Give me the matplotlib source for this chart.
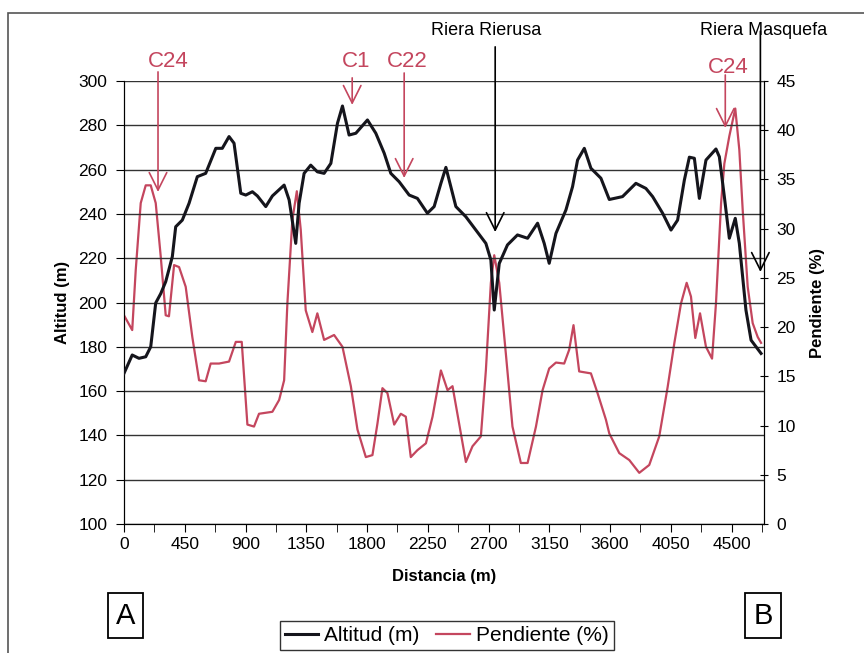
import matplotlib.pyplot as plt
from matplotlib.patches import Rectangle
from matplotlib.lines import Line2D

plt.rcParams['font.family'] = ['Liberation Sans', 'DejaVu Sans']

# perfil de altitud (m) frente a distancia (m)
dist_alt = [0, 61, 111, 161, 198, 235, 272, 309, 358, 383, 432, 482, 543, 605, 680, 728,
            778, 815, 865, 902, 951, 988, 1050, 1099, 1186, 1223, 1272, 1297, 1334, 1383,
            1432, 1482, 1532, 1581, 1618, 1667, 1717, 1803, 1865, 1927, 1976, 2038, 2112,
            2173, 2247, 2297, 2347, 2384, 2430, 2458, 2532, 2606, 2680, 2717, 2742, 2779,
            2840, 2914, 2989, 3063, 3112, 3149, 3199, 3273, 3322, 3359, 3409, 3458, 3532,
            3594, 3692, 3791, 3865, 3915, 3989, 4051, 4100, 4150, 4187, 4224, 4261, 4310,
            4384, 4409, 4446, 4483, 4527, 4557, 4606, 4644, 4681, 4718]
altitud = [168, 176.3, 174.8, 175.5, 180, 199.8, 204, 209.4, 220.7, 234.2, 237.2, 244.8,
           256.8, 258.3, 269.6, 269.6, 274.9, 271.9, 249.3, 248.5, 250, 248.1, 243.3, 248.1,
           253, 246.3, 226.7, 244.8, 258.3, 262, 259, 258.3, 262.8, 280.9, 288.7, 275.6,
           276.4, 282.4, 276.4, 267.4, 258.3, 254.5, 248.5, 247, 240.3, 243.3, 253.8, 261,
           250, 243.3, 238.7, 232.7, 226.7, 219.2, 196.6, 217.6, 226, 230.5, 229, 235.8,
           226.7, 217.7, 231.2, 241.8, 252.3, 264.3, 269.6, 260.6, 256.1, 246.5, 247.8,
           253.8, 251.5, 247.8, 240.3, 232.7, 237.2, 255.3, 265.6, 265.1, 247, 264.3, 269.3,
           265.8, 247.8, 229, 238, 226.7, 196.6, 183, 180, 177]

# pendiente (%) frente a distancia (m)
dist_pend = [0, 61, 87, 124, 161, 198, 235, 272, 309, 333, 371, 408, 457, 506, 556, 605,
             642, 704, 778, 828, 872, 914, 963, 1000, 1099, 1149, 1186, 1210, 1247, 1280,
             1309, 1346, 1395, 1432, 1482, 1556, 1618, 1680, 1729, 1791, 1840, 1877, 1914,
             1951, 2001, 2050, 2087, 2124, 2173, 2236, 2285, 2347, 2396, 2433, 2482, 2532,
             2581, 2643, 2680, 2717, 2742, 2779, 2828, 2877, 2939, 2989, 3051, 3100, 3149,
             3199, 3260, 3297, 3329, 3371, 3458, 3507, 3569, 3594, 3668, 3742, 3816, 3890,
             3964, 4026, 4076, 4125, 4167, 4199, 4231, 4266, 4310, 4355, 4384, 4422, 4446,
             4483, 4527, 4557, 4582, 4619, 4656, 4693, 4718]
pendiente = [21.2, 19.7, 25.8, 32.6, 34.4, 34.4, 32.6, 27.2, 21.2, 21.1, 26.3, 26.1, 24.1,
             19.0, 14.6, 14.5, 16.3, 16.3, 16.5, 18.5, 18.5, 10.1, 9.9, 11.2, 11.4, 12.6,
             14.6, 22.4, 30.9, 33.8, 29.9, 21.7, 19.5, 21.4, 18.7, 19.2, 18.0, 14.0, 9.6,
             6.8, 7.0, 10.2, 13.8, 13.3, 10.1, 11.2, 10.9, 6.8, 7.5, 8.2, 10.9, 15.6, 13.6,
             14.0, 10.2, 6.3, 7.9, 8.9, 15.6, 24.5, 27.3, 24.5, 17.3, 9.9, 6.2, 6.2, 9.9,
             13.6, 15.8, 16.4, 16.3, 17.7, 20.2, 15.5, 15.3, 13.3, 10.6, 9.2, 7.2, 6.5, 5.2,
             6.0, 8.9, 13.9, 18.4, 22.4, 24.5, 23.1, 18.9, 21.4, 18.0, 16.8, 22.4, 32.6,
             36.6, 39.4, 42.2, 38.0, 31.9, 24.1, 20.4, 19.0, 18.4]

xticks = list(range(0, 4501, 450))

rojo = '#c4465e'
negro = '#15151c'

fig = plt.figure(figsize=(8.64, 6.53), dpi=100)
ax = fig.add_axes([0.1435, 0.1975, 0.7408, 0.6785])
ax2 = ax.twinx()

ax.plot(dist_alt, altitud, color=negro, lw=2.2, zorder=4)
ax2.plot(dist_pend, pendiente, color=rojo, lw=1.6, zorder=3)
ax.set_zorder(ax2.get_zorder() + 1)
ax.patch.set_visible(False)

ax.set_xlim(0, 4740)
ax.set_ylim(100, 300)
ax2.set_ylim(0, 45)
ax.set_yticks(range(100, 301, 20))
ax2.set_yticks(range(0, 46, 5))
ax.set_xticks(xticks)
ax.set_xticks(range(225, 4740, 450), minor=True)
ax.grid(axis='y', color='#333333', lw=1.0)
ax.set_axisbelow(True)

for a in (ax, ax2):
    a.spines['top'].set_visible(False)
    a.spines['left'].set_color('black')
    a.spines['right'].set_color('black')
    a.spines['bottom'].set_color('black')
ax.tick_params(axis='both', labelsize=12.5, length=6, direction='out')
ax.tick_params(axis='y', pad=6)
ax.tick_params(axis='x', which='minor', length=6)
ax2.tick_params(axis='y', labelsize=12.5, length=6, direction='inout', pad=6)

ax.set_xlabel('Distancia (m)', fontsize=12, fontweight='bold', labelpad=12)
ax.set_ylabel('Altitud (m)', fontsize=12, fontweight='bold', labelpad=6)
ax2.set_ylabel('Pendiente (%)', fontsize=12, fontweight='bold', labelpad=10)

# flechas de referencia sobre el perfil
def marca(texto, xt, yt, xa, y0, y1, color, size):
    ax.text(xt, yt, texto, color=color, fontsize=size, ha='center', va='center',
            clip_on=False)
    ax.annotate('', xy=(xa, y1), xytext=(xa, y0), annotation_clip=False,
                arrowprops=dict(arrowstyle='->,head_width=0.35,head_length=0.7',
                                color=color, lw=1.2, shrinkA=0, shrinkB=0,
                                mutation_scale=18))

marca('C24', 326, 308.6, 252, 304.1, 249.9, rojo, 16)
marca('C1', 1719, 308.6, 1690, 301.4, 289.2, rojo, 16)
marca('C22', 2097, 308.6, 2075, 303.6, 256.2, rojo, 16)
marca('C24', 4476, 306.3, 4453, 302.7, 278.8, rojo, 16)
marca('Riera Rierusa', 2682, 323, 2749, 315.4, 231.8, 'black', 13)
marca('Riera Masquefa', 4735, 323, 4713, 322.5, 213.8, 'black', 13)

leg = fig.legend(handles=[Line2D([], [], color=negro, lw=2.2),
                          Line2D([], [], color=rojo, lw=1.6)],
                 labels=['Altitud (m)', 'Pendiente (%)'], loc='lower center',
                 bbox_to_anchor=(0.517, -0.012), ncol=2, fontsize=15, frameon=True,
                 fancybox=False, edgecolor='black', handlelength=1.6, handletextpad=0.3,
                 columnspacing=0.8, borderpad=0.25)
leg.get_frame().set_linewidth(1.0)

# recuadros de los extremos A y B
for letra, x0, x1 in (('A', 108, 143), ('B', 745, 781)):
    fig.patches.append(Rectangle((x0 / 864, 1 - 638 / 653), (x1 - x0) / 864, 45 / 653,
                                 transform=fig.transFigure, fill=False, ec='black', lw=1.3))
    fig.text((x0 + x1) / 2 / 864, 1 - 615.5 / 653, letra, fontsize=21, ha='center',
             va='center')

# marco del grafico (solo quedan visibles los lados izquierdo y superior)
fig.patches.append(Rectangle((0.009, -0.02), 1.02, 1.0, transform=fig.transFigure,
                             fill=False, ec='#555555', lw=1.2))

fig.savefig('out.png', dpi=100)
